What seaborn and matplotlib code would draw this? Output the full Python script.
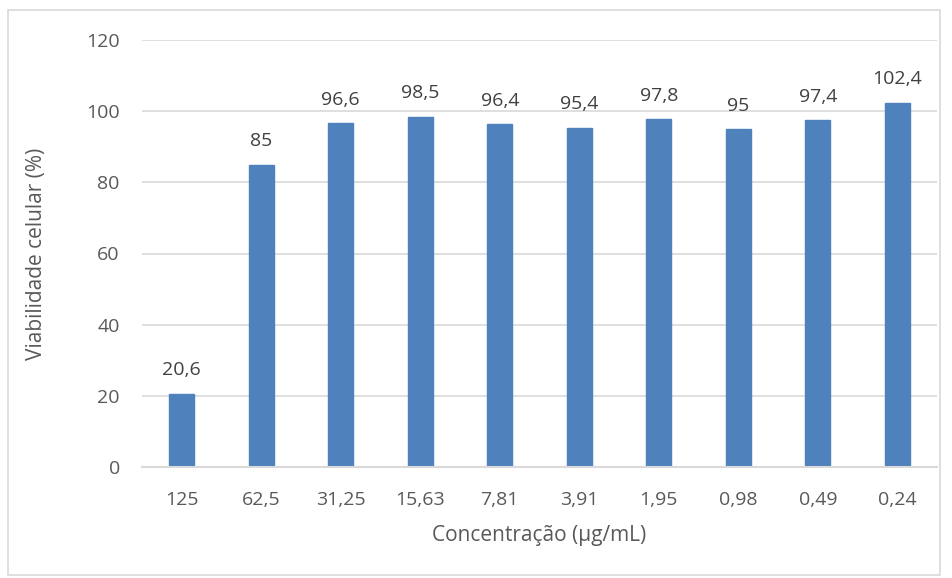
import matplotlib
matplotlib.use("Agg")
import matplotlib.pyplot as plt
import matplotlib.patches as mpatches
import seaborn as sns
import pandas as pd

categories = ["125", "62,5", "31,25", "15,63", "7,81", "3,91", "1,95", "0,98", "0,49", "0,24"]
values = [20.6, 85, 96.6, 98.5, 96.4, 95.4, 97.8, 95, 97.4, 102.4]
value_labels = ["20,6", "85", "96,6", "98,5", "96,4", "95,4", "97,8", "95", "97,4", "102,4"]
yticks = [0, 20, 40, 60, 80, 100, 120]

sns.set_theme(style="white")
plt.rcParams['font.family'] = ['Open Sans', 'DejaVu Sans']

df = pd.DataFrame({"conc": categories, "val": values})
text_color = "#595959"

fig = plt.figure(figsize=(9.52, 5.78), dpi=100)
ax = fig.add_axes([142/952, 1 - 467/578, (937-142)/952, (467-40)/578])
sns.barplot(data=df, x="conc", y="val", order=categories, color="#4F81BD",
            saturation=1, width=0.31, ax=ax, edgecolor="#4F81BD")
ax.set_ylim(0, 120)
ax.set_xlim(-0.5, len(categories) - 0.5)
ax.set_yticks(yticks)
ax.set_yticklabels([str(t) for t in yticks])
ax.yaxis.grid(True, color="#D9D9D9", linewidth=1.2)
ax.set_axisbelow(True)
for s in ["top", "right", "left"]:
    ax.spines[s].set_visible(False)
ax.spines["bottom"].set_color("#D9D9D9")
ax.spines["bottom"].set_linewidth(1.5)
ax.tick_params(axis="both", length=0, labelsize=14, colors=text_color, pad=17)
ax.tick_params(axis="y", pad=16)
ax.set_xlabel("Concentração (µg/mL)", fontsize=15, color=text_color, labelpad=12)
ax.set_ylabel("Viabilidade celular (%)", fontsize=15, color=text_color, labelpad=28)

for i, (v, lab) in enumerate(zip(values, value_labels)):
    ax.text(i, v + 4, lab, ha="center", va="bottom", fontsize=14, color="#404040")

fig.patches.append(mpatches.Rectangle((8/952, 3/578), (940-8)/952, (568-3)/578,
                                      transform=fig.transFigure, fill=False,
                                      edgecolor="#D9D9D9", linewidth=1.2))
fig.savefig("out.png", dpi=100, facecolor="white")
